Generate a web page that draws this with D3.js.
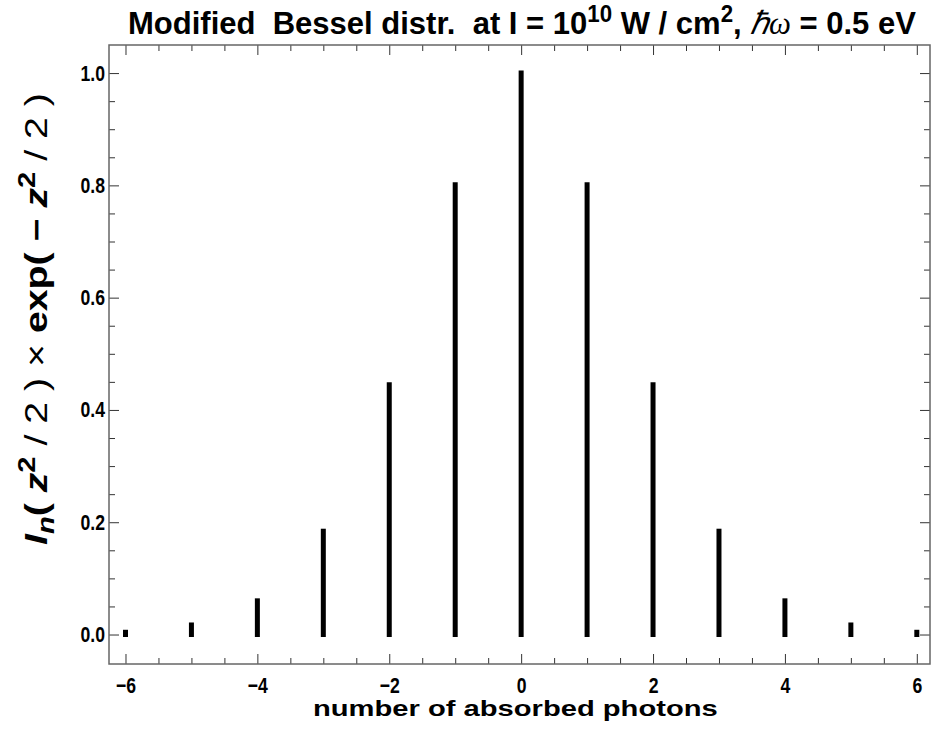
<!DOCTYPE html>
<html>
<head>
<meta charset="utf-8">
<script src="https://cdn.jsdelivr.net/npm/d3@7"></script>
<style>
  body { margin: 0; background: #fff; }
  text { font-family: "Liberation Sans", Arial, sans-serif; font-weight: bold; white-space: pre; }
</style>
</head>
<body>
<script>
// photon numbers and bar heights
var photons = [-6, -5, -4, -3, -2, -1, 0, 1, 2, 3, 4, 5, 6];
var weights = [0.004, 0.017, 0.06, 0.184, 0.445, 0.801, 1.0, 0.801, 0.445, 0.184, 0.06, 0.017, 0.004];
var xTicks = [-6, -4, -2, 0, 2, 4, 6];
var yTicks = [0.0, 0.2, 0.4, 0.6, 0.8, 1.0];

var width = 931, height = 744;
var plotLeft = 109, plotRight = 930, plotTop = 45, plotBottom = 664;
var squeeze = 0.8; // labels in the picture use a narrow bold face

var svg = d3.select("body").append("svg")
    .attr("width", width)
    .attr("height", height);

var x = d3.scaleLinear().domain([-6.25, 6.2]).range([plotLeft, plotRight]);
var y = d3.scaleLinear().domain([-0.0525, 1.05]).range([plotBottom, plotTop]);

var xMinor = d3.range(-6, 6.01, 0.5).filter(function(d) { return d % 2 !== 0; });
var yMinor = d3.range(0, 1.01, 0.05).filter(function(d) { return Math.abs(d * 5 - Math.round(d * 5)) > 1e-6; });

function axisStyle(g) {
    g.select(".domain").remove();
    g.selectAll("line").attr("stroke", "#333").attr("stroke-width", 1);
    g.selectAll("text").attr("font-size", "22px").attr("fill", "#000");
}

// put a text at (px, py), rotated by rot, scaled along its run to span len
function fitText(sel, len, px, py, rot) {
    var w = sel.node().getComputedTextLength();
    sel.attr("transform", "translate(" + px + "," + py + ") rotate(" + rot + ") scale(" + (len / w) + ",1)");
}

// major + minor ticks on all four sides
svg.append("g").attr("transform", "translate(0," + plotBottom + ")")
    .call(d3.axisBottom(x).tickValues(xTicks).tickSize(-10).tickPadding(13).tickFormat(d3.format("d")))
    .call(axisStyle)
    .selectAll("text").attr("transform", "scale(" + squeeze + ",1)");
svg.append("g").attr("transform", "translate(0," + plotBottom + ")")
    .call(d3.axisBottom(x).tickValues(xMinor).tickSize(-6).tickFormat(""))
    .call(axisStyle);
svg.append("g").attr("transform", "translate(0," + plotTop + ")")
    .call(d3.axisTop(x).tickValues(xTicks).tickSize(-10).tickFormat(""))
    .call(axisStyle);
svg.append("g").attr("transform", "translate(0," + plotTop + ")")
    .call(d3.axisTop(x).tickValues(xMinor).tickSize(-6).tickFormat(""))
    .call(axisStyle);

svg.append("g").attr("transform", "translate(" + plotLeft + ",0)")
    .call(d3.axisLeft(y).tickValues(yTicks).tickSize(-10).tickFormat(d3.format(".1f")))
    .call(axisStyle)
    .selectAll("text").attr("x", 0).attr("transform", "translate(-4,0) scale(" + squeeze + ",1)");
svg.append("g").attr("transform", "translate(" + plotLeft + ",0)")
    .call(d3.axisLeft(y).tickValues(yMinor).tickSize(-6).tickFormat(""))
    .call(axisStyle);
svg.append("g").attr("transform", "translate(" + plotRight + ",0)")
    .call(d3.axisRight(y).tickValues(yTicks).tickSize(-10).tickFormat(""))
    .call(axisStyle);
svg.append("g").attr("transform", "translate(" + plotRight + ",0)")
    .call(d3.axisRight(y).tickValues(yMinor).tickSize(-6).tickFormat(""))
    .call(axisStyle);

// frame
svg.append("rect")
    .attr("x", plotLeft).attr("y", plotTop)
    .attr("width", plotRight - plotLeft).attr("height", plotBottom - plotTop)
    .attr("fill", "none").attr("stroke", "#666").attr("stroke-width", 1.5);

// bars
svg.selectAll("line.bar")
    .data(photons)
    .enter().append("line")
    .attr("class", "bar")
    .attr("x1", function(d) { return x(d); })
    .attr("x2", function(d) { return x(d); })
    .attr("y1", y(0))
    .attr("y2", function(d, i) { return y(weights[i]); })
    .attr("stroke", "#000")
    .attr("stroke-width", 5)
    .attr("stroke-linecap", "square");

// title
var title = svg.append("text").attr("font-size", "32px");
title.append("tspan").text("Modified  Bessel distr.  at I = 10");
title.append("tspan").attr("dy", -12).attr("font-size", "23px").text("10");
title.append("tspan").attr("dy", 12).text(" W / cm");
title.append("tspan").attr("dy", -12).attr("font-size", "23px").text("2");
title.append("tspan").attr("dy", 12).text(", ");
title.append("tspan").attr("font-family", "'Liberation Serif', serif").attr("font-style", "italic").attr("font-weight", "normal").text("\u210Fω");
title.append("tspan").text(" = 0.5 eV");
fitText(title, 789, 128, 34, 0);

// x label
var xlab = svg.append("text")
    .attr("font-size", "22px")
    .text("number of absorbed photons");
fitText(xlab, 405, 313, 716, 0);

// y label
var ylab = svg.append("text").attr("font-size", "31px");
ylab.append("tspan").attr("font-style", "italic").text("I");
ylab.append("tspan").attr("font-style", "italic").attr("font-size", "23px").attr("dy", 7).text("n");
ylab.append("tspan").attr("dy", -7).text("( ");
ylab.append("tspan").attr("font-style", "italic").text("z");
ylab.append("tspan").attr("font-size", "23px").attr("dy", -12).text("2");
ylab.append("tspan").attr("dy", 12).attr("font-weight", "normal").text(" / 2 ) × ");
ylab.append("tspan").text("exp( − ");
ylab.append("tspan").attr("font-style", "italic").text("z");
ylab.append("tspan").attr("font-size", "23px").attr("dy", -12).text("2");
ylab.append("tspan").attr("dy", 12).attr("font-weight", "normal").text(" / 2 )");
fitText(ylab, 452, 47, 545, -90);
</script>
</body>
</html>
